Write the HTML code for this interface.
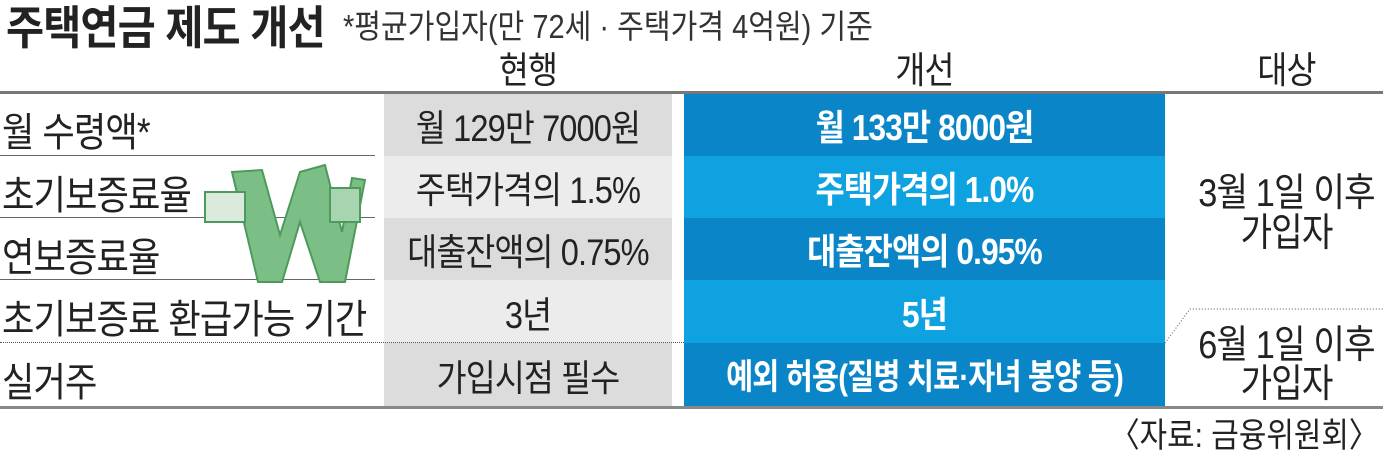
<!DOCTYPE html>
<html><head><meta charset="utf-8"><style>
body{margin:0;width:1383px;height:449px;background:#fff;position:relative;overflow:hidden;font-family:"Liberation Sans","Noto Sans CJK KR",sans-serif;color:#222}
.a{position:absolute;white-space:nowrap}
.c{position:absolute;display:flex;align-items:center;justify-content:center;white-space:nowrap}
.t{font-size:37px;letter-spacing:-1px;transform:scaleX(.88)}
.l{font-size:40px}
.b{font-weight:bold;color:#fff;font-size:36px}
.r{font-size:39px}
</style></head><body>
<div class="a" style="left:6px;top:-8px;font-size:46px;font-weight:bold;letter-spacing:-1px;transform:scaleX(.9);transform-origin:left">주택연금 제도 개선</div>
<div class="a" style="left:343px;top:0px;font-size:33px;color:#333;transform:scaleX(.88);transform-origin:left">*평균가입자(만 72세 · 주택가격 4억원) 기준</div>
<div class="c t" style="left:384px;width:288px;top:46px;height:42px">현행</div>
<div class="c t" style="left:684px;width:481px;top:46px;height:42px">개선</div>
<div class="c t" style="left:1190px;width:193px;top:46px;height:42px">대상</div>
<div class="a" style="left:0;top:91px;width:1383px;height:3px;background:#777"></div>
<div class="a" style="left:0;top:406px;width:1383px;height:3px;background:#888"></div>
<div class="a" style="left:384px;top:94px;width:288px;height:62px;background:#dcdcdc"></div>
<div class="a" style="left:384px;top:156px;width:288px;height:62px;background:#ececec"></div>
<div class="a" style="left:384px;top:218px;width:288px;height:62px;background:#dcdcdc"></div>
<div class="a" style="left:384px;top:280px;width:288px;height:63px;background:#ececec"></div>
<div class="a" style="left:384px;top:343px;width:288px;height:63px;background:#dcdcdc"></div>
<div class="a" style="left:684px;top:94px;width:481px;height:62px;background:#0a86c8"></div>
<div class="a" style="left:684px;top:156px;width:481px;height:62px;background:#0fa2e1"></div>
<div class="a" style="left:684px;top:218px;width:481px;height:62px;background:#0a86c8"></div>
<div class="a" style="left:684px;top:280px;width:481px;height:63px;background:#0fa2e1"></div>
<div class="a" style="left:684px;top:343px;width:481px;height:63px;background:#0a86c8"></div>
<div class="a" style="left:0;top:155px;width:375px;height:1px;background:#666"></div>
<div class="a" style="left:0;top:217px;width:375px;height:1px;background:#666"></div>
<div class="a" style="left:0;top:279px;width:375px;height:1px;background:#666"></div>
<div class="a" style="left:0;top:342px;width:684px;border-top:1px dotted #555"></div>
<svg class="a" style="left:0;top:0" width="1383" height="449"><polyline points="1165,343 1190,309 1383,309" fill="none" stroke="#555" stroke-dasharray="1,2"/>
<g fill="#7cbf86" stroke="#4d9a5d" stroke-width="2"><polygon points="232,172 262,170 280,235 300,172 325,165 342,232 352,178 365,180 345,282 320,282 300,222 282,282 258,282"/><rect x="205" y="192" width="40" height="30" fill="#dbeadc"/><rect x="330" y="188" width="30" height="34" fill="#a8d4b0"/></g></svg>
<div class="a t l" style="left:2px;top:100px;transform-origin:left">월 수령액*</div>
<div class="a t l" style="left:2px;top:163px;transform-origin:left">초기보증료율</div>
<div class="a t l" style="left:2px;top:225px;transform-origin:left">연보증료율</div>
<div class="a t l" style="left:2px;top:287px;transform-origin:left">초기보증료 환급가능 기간</div>
<div class="a t l" style="left:2px;top:350px;transform-origin:left">실거주</div>
<div class="c t" style="left:384px;width:288px;top:94px;height:62px">월 129만 7000원</div>
<div class="c t" style="left:384px;width:288px;top:156px;height:62px">주택가격의 1.5%</div>
<div class="c t" style="left:384px;width:288px;top:218px;height:62px">대출잔액의 0.75%</div>
<div class="c t" style="left:384px;width:288px;top:280px;height:63px">3년</div>
<div class="c t" style="left:384px;width:288px;top:343px;height:63px">가입시점 필수</div>
<div class="c t b" style="left:684px;width:481px;top:94px;height:62px">월 133만 8000원</div>
<div class="c t b" style="left:684px;width:481px;top:156px;height:62px">주택가격의 1.0%</div>
<div class="c t b" style="left:684px;width:481px;top:218px;height:62px">대출잔액의 0.95%</div>
<div class="c t b" style="left:684px;width:481px;top:280px;height:63px">5년</div>
<div class="c t b" style="left:684px;width:481px;top:343px;height:63px;font-size:35px;transform:scaleX(.84)">예외 허용(질병 치료·자녀 봉양 등)</div>
<div class="c t r" style="left:1190px;width:193px;top:170px;height:40px">3월 1일 이후</div>
<div class="c t r" style="left:1190px;width:193px;top:210px;height:40px">가입자</div>
<div class="c t r" style="left:1190px;width:193px;top:322px;height:40px">6월 1일 이후</div>
<div class="c t r" style="left:1190px;width:193px;top:361px;height:40px">가입자</div>
<div class="a" style="right:4px;top:408px;font-size:34px;transform:scaleX(.88);transform-origin:right">〈자료: 금융위원회〉</div>
</body></html>
